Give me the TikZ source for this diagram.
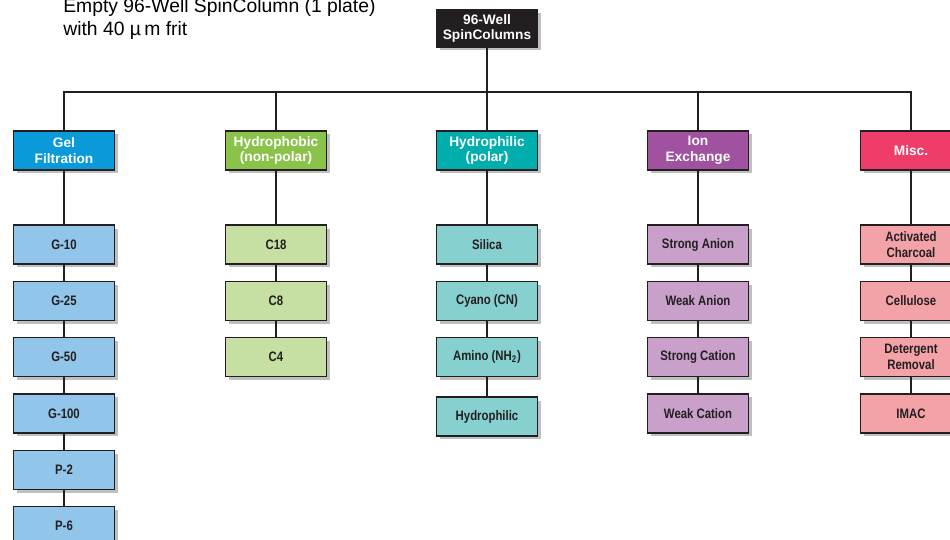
\documentclass[tikz,border=0pt]{standalone}
\usepackage{fontspec}
\setmainfont{Liberation Sans}
\newfontfamily\narrowfont[FakeStretch=0.83]{Liberation Sans}
\usetikzlibrary{shadows}
\definecolor{ink}{HTML}{231F20}
\definecolor{gelcol}{HTML}{0A9AD9}
\definecolor{gelsub}{HTML}{92C5EA}
\definecolor{phobcol}{HTML}{8AC24A}
\definecolor{phobsub}{HTML}{C6DFA2}
\definecolor{philcol}{HTML}{00AFAD}
\definecolor{philsub}{HTML}{86D1CF}
\definecolor{ioncol}{HTML}{A0519F}
\definecolor{ionsub}{HTML}{C8A0CA}
\definecolor{misccol}{HTML}{EE3D68}
\definecolor{miscsub}{HTML}{F3A2A7}
\tikzset{
  box/.style={draw=ink, line width=0.75pt, minimum width=2.02cm, minimum height=0.78cm,
    inner sep=1pt, align=center,
    general shadow={fill=black!25, shadow xshift=0.07cm, shadow yshift=-0.07cm}},
  catbox/.style={box, text=white, font=\fontsize{7.8}{9}\selectfont\bfseries},
  subbox/.style={box, text=ink, font=\narrowfont\fontsize{7.8}{9}\selectfont\bfseries},
  link/.style={draw=ink, line width=0.8pt}
}
\begin{document}
\begin{tikzpicture}[x=0.02cm, y=-0.02cm]
\useasboundingbox (0,0) rectangle (950,540);
% note
\node[anchor=base west, inner sep=0, font=\fontsize{11}{13}\selectfont] (note1) at (63,12.5) {Empty 96-Well SpinColumn (1 plate)};
\node[anchor=base west, inner sep=0, font=\fontsize{11}{13}\selectfont] (note2) at (63,36) {with 40 µ\,m frit};
% nodes
\node[catbox, fill=ink, minimum height=0.74cm] (top) at (487,28.5) {96-Well\\SpinColumns};
\coordinate (bus) at (487,92);
\node[catbox, fill=gelcol] (gel) at (64,150.5) {Gel\\Filtration};
\node[catbox, fill=phobcol] (phob) at (276,150.5) {Hydrophobic\\(non-polar)};
\node[catbox, fill=philcol] (phil) at (487,150.5) {Hydrophilic\\(polar)};
\node[catbox, fill=ioncol] (ion) at (698,150.5) {Ion\\Exchange};
\node[catbox, fill=misccol] (misc) at (911,150.5) {Misc.};
% gel filtration
\node[subbox, fill=gelsub] (g10) at (64,244.5) {G-10};
\node[subbox, fill=gelsub] (g25) at (64,300.8) {G-25};
\node[subbox, fill=gelsub] (g50) at (64,357.1) {G-50};
\node[subbox, fill=gelsub] (g100) at (64,413.4) {G-100};
\node[subbox, fill=gelsub] (p2) at (64,469.7) {P-2};
\node[subbox, fill=gelsub] (p6) at (64,526) {P-6};
% hydrophobic
\node[subbox, fill=phobsub] (c18) at (276,244.5) {C18};
\node[subbox, fill=phobsub] (c8) at (276,300.8) {C8};
\node[subbox, fill=phobsub] (c4) at (276,357.1) {C4};
% hydrophilic
\node[subbox, fill=philsub] (silica) at (487,244.5) {Silica};
\node[subbox, fill=philsub] (cyano) at (487,300.8) {Cyano (CN)};
\node[subbox, fill=philsub] (amino) at (487,357.1) {Amino (NH\textsubscript{2})};
\node[subbox, fill=philsub] (hphil) at (487,416.5) {Hydrophilic};
% ion exchange
\node[subbox, fill=ionsub] (sanion) at (698,244.5) {Strong Anion};
\node[subbox, fill=ionsub] (wanion) at (698,300.8) {Weak Anion};
\node[subbox, fill=ionsub] (scation) at (698,357.1) {Strong Cation};
\node[subbox, fill=ionsub] (wcation) at (698,413.4) {Weak Cation};
% misc
\node[subbox, fill=miscsub] (charcoal) at (911,244.5) {Activated\\Charcoal};
\node[subbox, fill=miscsub] (cellulose) at (911,300.8) {Cellulose};
\node[subbox, fill=miscsub] (detergent) at (911,357.1) {Detergent\\Removal};
\node[subbox, fill=miscsub] (imac) at (911,413.4) {IMAC};
% lines
\draw[link] (top) -- (bus);
\draw[link] (gel.north) |- (bus) -| (misc.north);
\draw[link] (phob.north) -- (phob.north |- bus);
\draw[link] (phil.north) -- (bus);
\draw[link] (ion.north) -- (ion.north |- bus);
\draw[link] (gel) -- (g10) -- (g25) -- (g50) -- (g100) -- (p2) -- (p6);
\draw[link] (phob) -- (c18) -- (c8) -- (c4);
\draw[link] (phil) -- (silica) -- (cyano) -- (amino) -- (hphil);
\draw[link] (ion) -- (sanion) -- (wanion) -- (scation) -- (wcation);
\draw[link] (misc) -- (charcoal) -- (cellulose) -- (detergent) -- (imac);
\end{tikzpicture}
\end{document}
